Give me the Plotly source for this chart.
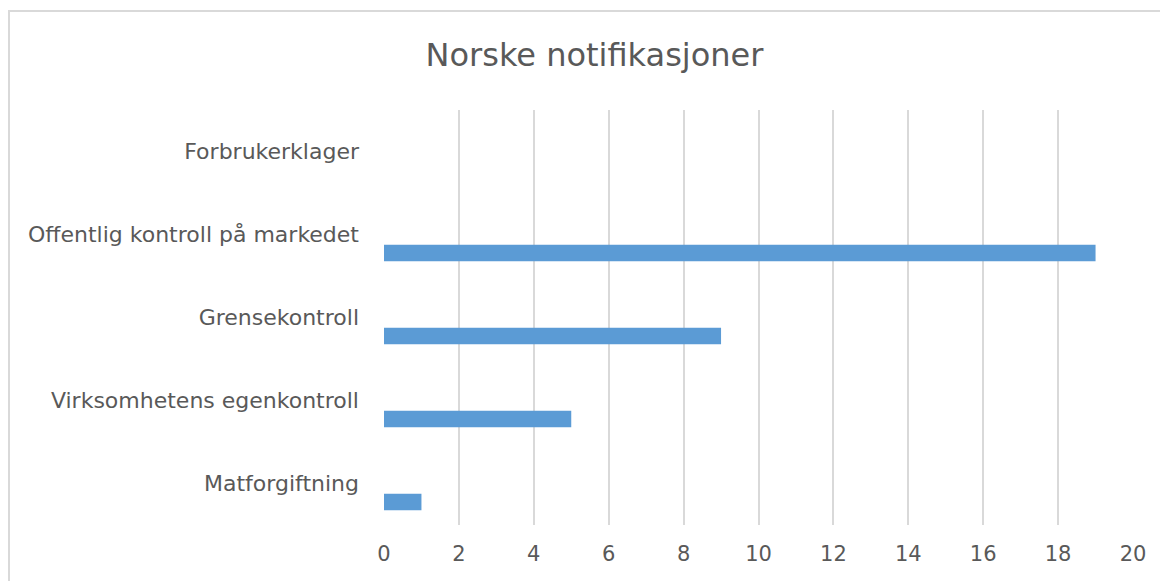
import plotly.graph_objects as go

categories = ["Matforgiftning", "Virksomhetens egenkontroll", "Grensekontroll",
              "Offentlig kontroll på markedet", "Forbrukerklager"]
values = [1, 5, 9, 19, 0]
x_ticks = [0, 2, 4, 6, 8, 10, 12, 14, 16, 18, 20]

# page has an 8px body margin; figure sized to fill the 1168x581 window
W, H = 1160, 573
L, R, T, B = 376, 35, 102, 56
pw, ph = W - L - R, H - T - B

fig = go.Figure()
fig.add_trace(go.Bar(
    y=categories, x=values, orientation="h",
    marker=dict(color="#5b9bd5", line=dict(width=0)),
    width=0.2, offset=-0.323, hoverinfo="x+y",
))

txt = "#595959"
fnt = "DejaVu Sans, Open Sans, sans-serif"
fig.update_layout(
    width=W, height=H,
    margin=dict(l=L, r=R, t=T, b=B),
    paper_bgcolor="white", plot_bgcolor="white",
    showlegend=False,
    font=dict(family=fnt, color=txt),
    title=dict(text="Norske notifikasjoner", x=586.5 / W, xref="container",
               xanchor="center", y=1 - 47 / H, yref="container", yanchor="middle",
               font=dict(size=32, color=txt, family=fnt)),
    xaxis=dict(range=[0, 20], tickvals=x_ticks, showgrid=True, gridcolor="#d9d9d9",
               gridwidth=1.5, zeroline=False, showline=False, ticks="",
               tickfont=dict(size=21, color=txt, family=fnt), ticklabelstandoff=14,
               fixedrange=True),
    yaxis=dict(type="category", categoryorder="array", categoryarray=categories,
               range=[-0.5, 4.5], showgrid=False, zeroline=False, showline=False,
               ticks="", tickfont=dict(size=22, color=txt, family=fnt),
               ticklabelstandoff=24, fixedrange=True),
    shapes=[dict(type="rect", xref="paper", yref="paper",
                 x0=(1 - L) / pw, x1=(W + 20 - L) / pw,
                 y0=-(B + 20) / ph, y1=(H - 3 - B) / ph,
                 line=dict(color="#d9d9d9", width=2), fillcolor="rgba(0,0,0,0)",
                 layer="below")],
)

fig.write_html("out.html")
